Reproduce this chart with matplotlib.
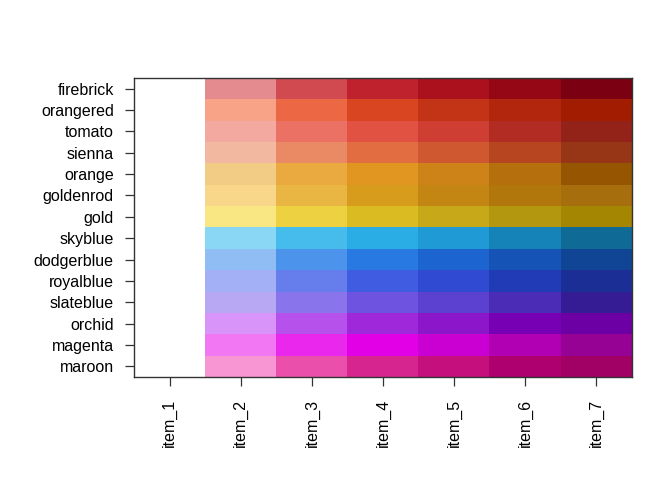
import matplotlib
matplotlib.use("Agg")
import matplotlib.pyplot as plt
import matplotlib.colors as mcolors
import numpy as np

items = ["item_1", "item_2", "item_3", "item_4", "item_5", "item_6", "item_7"]
palettes = ["firebrick", "orangered", "tomato", "sienna", "orange", "goldenrod",
            "gold", "skyblue", "dodgerblue", "royalblue", "slateblue", "orchid",
            "magenta", "maroon"]

firebrick = [None, "#E38B8E", "#D14A4F", "#C0222D", "#AB111D", "#960715", "#7B0011"]
orangered = [None, "#F8A287", "#EC6744", "#DA4521", "#C33315", "#B1260D", "#A11C01"]
tomato = [None, "#F3A8A0", "#EB7165", "#E15242", "#CE3E32", "#B32C24", "#932219"]
sienna = [None, "#F3B9A0", "#EA8A64", "#E26D40", "#CF5830", "#B64520", "#963617"]
orange = [None, "#F2CC84", "#EAAA40", "#E29622", "#CD8317", "#B5700D", "#955501"]
goldenrod = [None, "#F8D68A", "#EAB643", "#D79C1B", "#C48612", "#B1770C", "#A66E0C"]
gold = [None, "#F8E783", "#EDD140", "#DABB22", "#C6A818", "#B3970E", "#A58603"]
skyblue = [None, "#89D6F5", "#45BCEC", "#29ADE4", "#1F9AD5", "#1683B8", "#0F6A96"]
dodgerblue = [None, "#91BDF5", "#4B93EB", "#2979E2", "#1C65D0", "#1554B6", "#104595"]
royalblue = [None, "#A3B0F5", "#657EEC", "#405DE2", "#304BD2", "#213AB6", "#1A2E95"]
slateblue = [None, "#B8A8F3", "#8A74EB", "#6E53E0", "#5C40D0", "#4A2CB6", "#351C95"]
orchid = [None, "#D894F9", "#B751EC", "#A028DB", "#8B16CA", "#7700B5", "#6C00A4"]
magenta = [None, "#F278F3", "#EA27EC", "#E200E6", "#CA00D2", "#B100B3", "#960293"]
maroon = [None, "#F796D2", "#EB4FAC", "#D72590", "#C40F7C", "#AF006F", "#A10065"]

rows = [firebrick, orangered, tomato, sienna, orange, goldenrod, gold, skyblue,
        dodgerblue, royalblue, slateblue, orchid, magenta, maroon]

plt.rcParams['font.family'] = ['Liberation Sans', 'DejaVu Sans']

fig = plt.figure(figsize=(6.72, 4.8), dpi=100)
ax = fig.add_axes([134/672, 1 - 377/480, (632-134)/672, (377-78)/480])

img = np.ones((len(rows), len(items), 4))
for i, r in enumerate(rows):
    for j, c in enumerate(r):
        if c is None:
            img[i, j] = (1, 1, 1, 0)
        else:
            img[i, j] = mcolors.to_rgba(c)

ax.imshow(img, aspect='auto', interpolation='nearest',
          extent=(0.5, len(items) + 0.5, len(rows) + 0.5, 0.5))
ax.set_xlim(0.5, len(items) + 0.5)
ax.set_ylim(len(rows) + 0.5, 0.5)
ax.set_xticks(np.arange(1, len(items) + 1))
ax.set_xticklabels(items, rotation=90, fontsize=11.5)
ax.set_yticks(np.arange(1, len(rows) + 1))
ax.set_yticklabels(palettes, fontsize=11.5)
ax.tick_params(axis='both', direction='out', length=6.5, width=0.9, color='#333333')
ax.tick_params(axis='x', pad=9)
ax.tick_params(axis='y', pad=8)
for s in ax.spines.values():
    s.set_linewidth(1.0)
    s.set_color('#333333')

fig.savefig("out.png", dpi=100)
